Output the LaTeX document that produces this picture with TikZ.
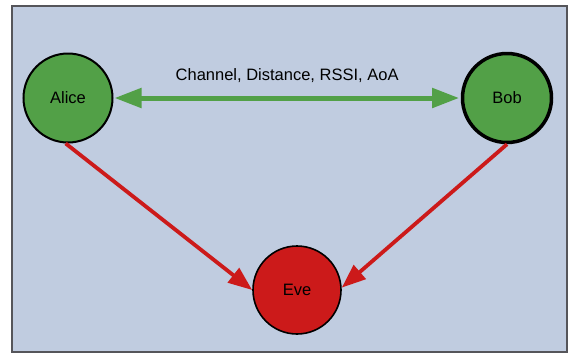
\documentclass[tikz,border=0pt]{standalone}
\usepackage{fontspec}
\setmainfont{Liberation Sans}
\usetikzlibrary{arrows.meta}
\definecolor{bgblue}{RGB}{192,204,224}
\definecolor{nodegreen}{RGB}{82,160,71}
\definecolor{nodered}{RGB}{204,26,26}
\definecolor{framegray}{RGB}{85,85,90}
\tikzset{party/.style={circle,draw=black,line width=2pt,minimum size=89pt,inner sep=0pt,font=\fontsize{16.5}{19}\selectfont}}
\begin{document}
\begin{tikzpicture}[x=1pt,y=-1pt]
\useasboundingbox (0,0) rectangle (575,354);
\draw[framegray,line width=1.2pt,fill=bgblue] (12,6) rectangle (567,352);

\node[party,fill=nodegreen] (alice) at (68,98) {Alice};
\node[party,fill=nodegreen,line width=3.5pt] (bob) at (507,98) {Bob};
\node[party,fill=nodered,line width=1.6pt,minimum size=88pt] (eve) at (297,290) {Eve};

\draw[nodegreen,line width=5pt,{Triangle[length=27pt,width=19pt]}-{Triangle[length=27pt,width=19pt]},shorten <=1pt,shorten >=1.6pt] (alice) -- (bob) node[midway,above=10pt,black,font=\fontsize{16.5}{19}\selectfont] {Channel, Distance, RSSI, AoA};

%\draw[nodered] (alice) -- (eve);
\draw[nodered,line width=3.8pt,-{Triangle[length=24pt,width=18pt]}] (alice.-93) -- (eve.180);
\draw[nodered,line width=3.8pt,-{Triangle[length=24pt,width=18pt]}] (bob.-90) -- (eve.3);
\end{tikzpicture}
\end{document}
